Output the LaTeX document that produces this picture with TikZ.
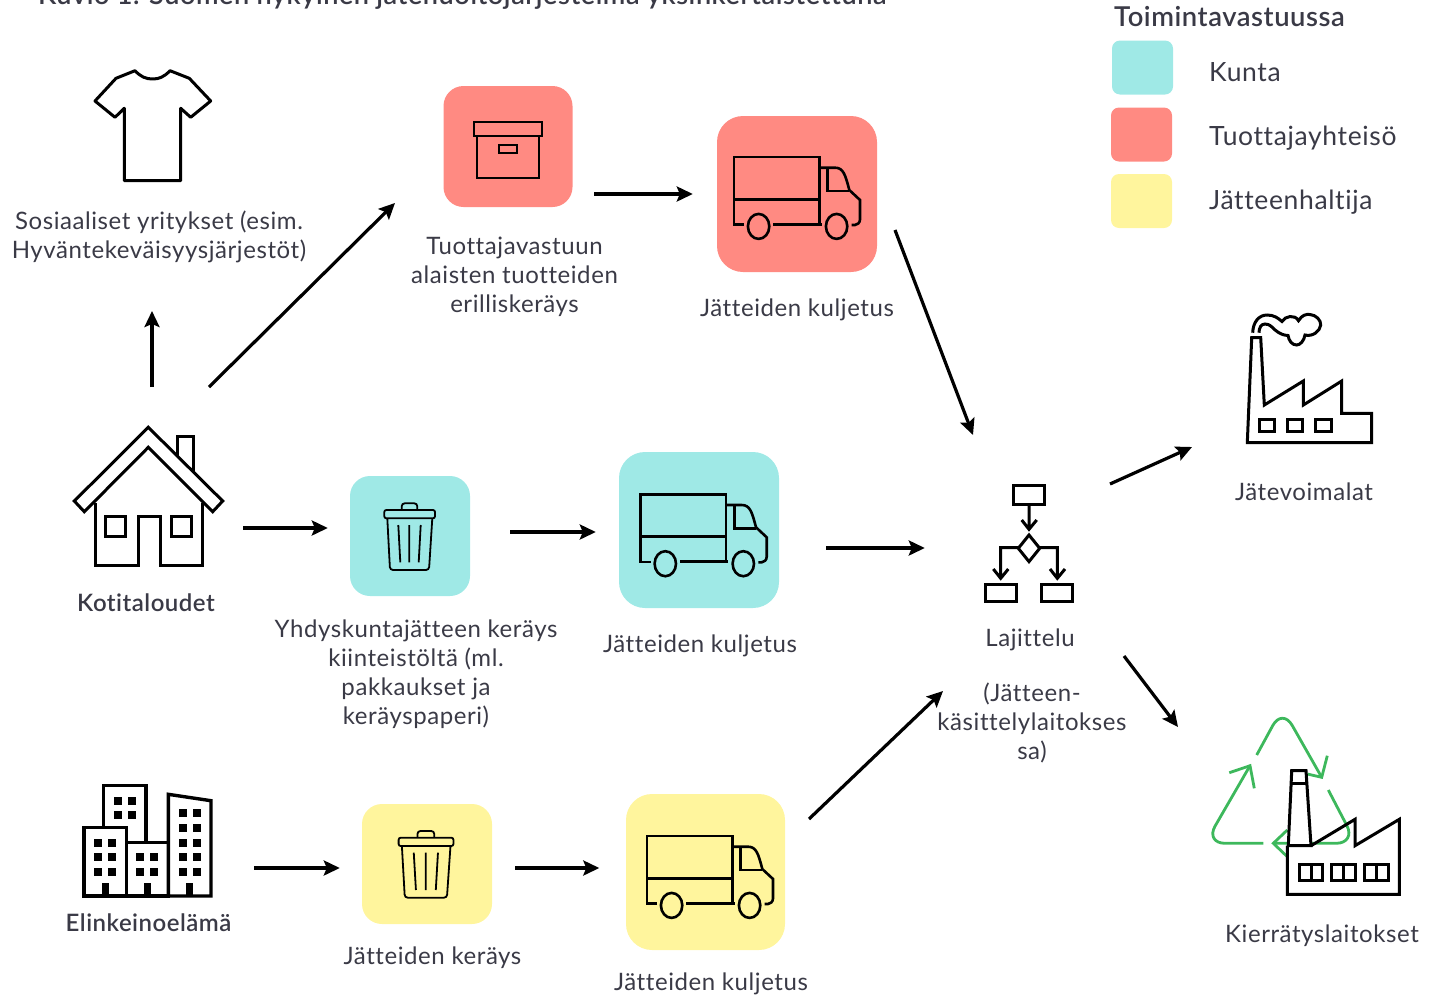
\documentclass[tikz,border=0pt]{standalone}
\usepackage{fontspec}
\setmainfont{Lato}[LetterSpace=2.4,Ligatures=NoCommon]
\newfontfamily\keski{Lato Semibold}[LetterSpace=2.0,Ligatures=NoCommon]
\usetikzlibrary{arrows.meta}
\definecolor{kunta}{HTML}{9FE9E6}
\definecolor{tuottaja}{HTML}{FF8A82}
\definecolor{haltija}{HTML}{FFF59D}
\definecolor{kierto}{HTML}{3DB85C}
\definecolor{teksti}{HTML}{3A3A46}
\tikzset{
  nuoli/.style={line width=3.2pt, -{Stealth[length=16pt,width=15pt,inset=3pt]}},
  ikoni/.style={line width=3pt, line join=miter},
  ohut/.style={line width=1.8pt},
  kuljetus/.style={minimum width=160pt, minimum height=156pt, rounded corners=26pt, inner sep=0pt},
  kerays/.style={minimum width=120pt, minimum height=120pt, rounded corners=20pt, inner sep=0pt},
  selite/.style={minimum width=61pt, minimum height=54pt, rounded corners=8pt, inner sep=0pt},
  paikka/.style={inner sep=0pt},
  txt/.style={text=teksti, font=\fontsize{24}{29}\selectfont, align=center, inner sep=0pt},
  seliteTxt/.style={text=teksti, font=\fontsize{26.5}{29}\selectfont, inner sep=0pt, anchor=west},
  vahva/.style={text=teksti, font=\fontsize{24}{29}\selectfont\keski, inner sep=0pt},
  truck/.pic={
    \draw[ohut,line width=2.6pt] (650.7,562)--(640.7,562)--(640.7,494.3)--(726,494.3)--(726,562);
    \draw[ohut,line width=2.6pt] (640.7,536.7)--(726,536.7) (680,561.7)--(728.3,561.7);
    \draw[ohut,line width=2.6pt] (665.3,563.7) ellipse (10.7 and 12.5) (743.3,563.7) ellipse (10.7 and 12.5);
    \draw[ohut,line width=2.6pt] (726,505)--(741.7,505) .. controls (750,505) and (752,512) .. (756,527.3)--(766.7,537.3)--(766.7,556.7) .. controls (766.7,560) and (764,562.3) .. (761.7,562.3)--(758.3,562.3);
    \draw[ohut,line width=2.6pt] (734.3,505)--(734.3,528.3)--(756,528.3);
  },
  bin/.pic={
    \draw[ohut,rounded corners=2pt] (384.3,510) rectangle (435,518.3);
    \draw[ohut,rounded corners=3pt] (401.7,510)--(401.7,503.3)--(417.3,503.3)--(417.3,510);
    \draw[ohut,rounded corners=3pt] (387.3,518.3)--(390,570)--(429,570)--(432.3,518.3);
    \draw[ohut] (398.3,525)--(400.3,562.3) (409.3,525)--(409.3,562.3) (420.7,525)--(418.7,562.3);
  }
}
\begin{document}
\begin{tikzpicture}[x=1pt,y=-1pt]
\useasboundingbox (0,0) rectangle (1440,994);

\node[vahva, anchor=base west, font=\fontsize{27.1}{29}\selectfont\keski] (otsikko) at (38,4) {Kuvio 1. Suomen nykyinen jätehuoltojärjestelmä yksinkertaistettuna};

% laatikot
\node[kerays, fill=tuottaja, minimum width=129pt, minimum height=121pt] (keraysP) at (508,146.5) {};
\node[kuljetus, fill=tuottaja] (autoP) at (797,194) {};
\node[kerays, fill=kunta] (keraysK) at (410,536) {};
\node[kuljetus, fill=kunta] (autoK) at (699,530) {};
\node[kerays, fill=haltija, minimum width=130pt] (keraysJ) at (427,864) {};
\node[kuljetus, fill=haltija, minimum width=159pt, minimum height=156pt] (autoJ) at (705.5,872) {};

% selite
\node[vahva, anchor=base west, font=\fontsize{27.4}{29}\selectfont\keski] (toiminta) at (1114,26) {Toimintavastuussa};
\node[selite, fill=kunta] (seliteK) at (1142.5,67.5) {};
\node[selite, fill=tuottaja] (seliteP) at (1141.5,134.5) {};
\node[selite, fill=haltija] (seliteJ) at (1141.5,201) {};
\node[seliteTxt] (kunta) at (1209,72) {Kunta};
\node[seliteTxt] (tuottajat) at (1209,138) {Tuottajayhteisö};
\node[seliteTxt] (haltijat) at (1209,202) {Jätteenhaltija};

% paita
\node[paikka, minimum width=116pt, minimum height=110pt] (paita) at (153,125.5) {};
\draw[ikoni, line join=round] (135,70.7) .. controls (141,77) and (146,79) .. (152.7,79) .. controls (159,79) and (164,77) .. (170,70.7)
  -- (189.3,78.3) -- (210.7,101) -- (190.7,117.3) -- (180.7,108.3) -- (180.7,180.7) -- (124.3,180.7) -- (124.3,108.3) -- (115,117.3) -- (95,101) -- (116,78.3) -- cycle;

% talo
\node[paikka, minimum width=150pt, minimum height=140pt] (koti) at (148.5,497) {};
\draw[ikoni] (148.3,427.3) -- (74.3,501) -- (84.3,511.7) -- (148.3,447.3) -- (212.7,511.7) -- (222.7,501) -- cycle;
\draw[ikoni] (177.3,456.7) -- (177.3,436.7) -- (193.3,436.7) -- (193.3,471.7);
\draw[ikoni] (95,503.3) -- (95,565) -- (138.3,565) -- (138.3,516.7) -- (160,516.7) -- (160,565) -- (202.7,565) -- (202.7,503.3);
\draw[ikoni] (105.7,516) rectangle (125.7,536.7) (171.7,516) rectangle (191.7,536.7);

% kaupunki
\node[paikka, minimum width=130pt, minimum height=112pt] (elinkeino) at (147.5,840) {};
\draw[ikoni, line width=3.4pt] (103.3,826.7) -- (103.3,785.7) -- (146,785.7) -- (146,841.7);
\draw[ikoni, line width=3.4pt] (84,827.3) rectangle (126.7,896) (126.7,842.7) rectangle (168.3,896);
\draw[ikoni, line width=3.4pt] (168.3,794.3) -- (211,800.7) -- (211,896) -- (168.3,896) -- cycle;
\foreach \ikk/\ikky in {118/800.7,132/800.7,118/814.7,132/814.7,98/842.7,112/842.7,98/856.7,112/856.7,98/871.7,112/871.7,140/856.7,154/856.7,140/871.7,154/871.7,183/813,197/813,183/827.7,197/827.7,183/842.7,197/842.7,183/856.7,197/856.7,183/871.7,197/871.7}
  \fill (\ikk-4,\ikky-4) rectangle +(8,8);
\foreach \ovi in {105.3,147.3,189.3}
  \fill (\ovi-3.5,883.3) rectangle (\ovi+3.5,896);

% arkisto
\draw[ohut] (474,122.3) rectangle (542.3,135.7) (476.7,135.7) rectangle (539.3,177.7) (499,145) rectangle (517.3,152.7);

% autot ja roskikset
\pic at (0,0) {truck};
\pic at (93.3,-337.3) {truck};
\pic at (6.3,341.7) {truck};
\pic at (0,0) {bin};
\pic[xscale=1.08] at (-16.4,327.7) {bin};

% lajittelu
\node[paikka, minimum width=90pt, minimum height=118pt] (lajittelu) at (1029,543.5) {};
\draw[ikoni] (1013.3,485.7) rectangle (1044.3,504);
\draw[ikoni] (1029,504) -- (1029,529.3) (1021.7,520) -- (1029,529.3) -- (1036.7,520);
\draw[ikoni] (1029,535) -- (1039.7,548.3) -- (1029,561.6) -- (1018.3,548.3) -- cycle;
\draw[ikoni] (1018.3,547.7) -- (1000.7,547.7) -- (1000.7,578.3) (993.3,569) -- (1000.7,578.3) -- (1008.3,569);
\draw[ikoni] (1039.7,547.7) -- (1057.3,547.7) -- (1057.3,578.3) (1050,569) -- (1057.3,578.3) -- (1065,569);
\draw[ikoni] (985.7,584) rectangle (1016,601.7) (1041.7,584) rectangle (1072.3,601.7);

% voimala
\node[paikka, minimum width=126pt, minimum height=130pt] (voimala) at (1310,378) {};
\draw[ikoni] (1251.7,337.7) -- (1247.3,442.7) -- (1371.7,442.7) -- (1371.7,413.3) -- (1341.7,413.3) -- (1341.7,381) -- (1303.3,405) -- (1303.3,381) -- (1264.3,405) -- (1260.7,337.7) -- cycle;
\draw[ikoni] (1259,419.3) rectangle (1274.3,431.7) (1287.3,419.3) rectangle (1302.7,431.7) (1315.7,419.3) rectangle (1331,431.7);
\draw[ikoni] (1252.7,332.7) .. controls (1253,322) and (1259,315) .. (1267,315)
  .. controls (1274,315) and (1278,318) .. (1282,321.5)
  .. controls (1285,316) and (1295,314) .. (1298.5,320.7)
  .. controls (1302,315) and (1306,314) .. (1310,314.5)
  .. controls (1316,315) and (1321,320) .. (1320.7,325)
  .. controls (1320,331) and (1313,337) .. (1305,335)
  .. controls (1304,341) and (1300,345) .. (1296.7,345)
  .. controls (1292,345) and (1289,341) .. (1288,335.5)
  .. controls (1280,335) and (1276,331) .. (1272,327)
  .. controls (1269,324.5) and (1267,324) .. (1265,324)
  .. controls (1261,324) and (1259,328) .. (1259,332.7);

% kierratys
\node[paikka, minimum width=196pt, minimum height=180pt] (kierratys) at (1303,805) {};
\draw[kierto, line width=2.8pt, rounded corners=20pt] (1256.7,755) -- (1282.3,708) -- (1321.7,777.3);
\draw[kierto, line width=2.8pt] (1327.3,755.7) -- (1321.7,777.3) -- (1307.3,774);
\draw[kierto, line width=2.8pt, rounded corners=20pt] (1328.3,790) -- (1356.1,843.3) -- (1273.3,843.3);
\draw[kierto, line width=2.8pt] (1287.3,830) -- (1273.3,843.3) -- (1287.3,856.7);
\draw[kierto, line width=2.8pt, rounded corners=20pt] (1263.3,843.3) -- (1205.1,843.3) -- (1250,765.7);
\draw[kierto, line width=2.8pt] (1229.3,772.7) -- (1250,765.7) -- (1254.3,788.3);
\fill[white] (1287.3,845.7) rectangle (1399.3,894.3);
\draw[ikoni, fill=white] (1291.7,770.7) -- (1306,770.7) -- (1311,845.7) -- (1288.3,845.7) -- cycle;
\draw[ikoni] (1290.7,783.3) -- (1307,783.3);
\draw[ikoni] (1311,845.7) -- (1355,819.3) -- (1355,845.7) -- (1399.3,819.3) -- (1399.3,894.3) -- (1287.3,894.3) -- (1287.3,845.7);
\draw[ikoni] (1299,864.3) rectangle (1322.7,880) (1311,864.3) -- (1311,880);
\draw[ikoni] (1331.7,864.3) rectangle (1355,880) (1343.3,864.3) -- (1343.3,880);
\draw[ikoni] (1364.3,864.3) rectangle (1388.3,880) (1376.7,864.3) -- (1376.7,880);

% tekstit
\node[txt] (sosiaaliset) at (159,236.5) {Sosiaaliset yritykset (esim.\\Hyväntekeväisyysjärjestöt)};
\node[txt] (tuottajavastuu) at (514.5,277) {Tuottajavastuun\\alaisten tuotteiden\\erilliskeräys};
\node[txt] (kuljetusP) at (797,310) {Jätteiden kuljetus};
\node[vahva] (kotitaloudet) at (146,603) {Kotitaloudet};
\node[txt] (yhdyskunta) at (416,674.5) {Yhdyskuntajätteen keräys\\kiinteistöltä (ml.\\pakkaukset ja\\keräyspaperi)};
\node[txt] (kuljetusK) at (700,646) {Jätteiden kuljetus};
\node[vahva] (elinkeinoelama) at (148.5,923) {Elinkeinoelämä};
\node[txt] (keraysText) at (432.5,958) {Jätteiden keräys};
\node[txt] (kuljetusJ) at (711,984) {Jätteiden kuljetus};
\node[txt] (lajitteluText) at (1030,640) {Lajittelu};
\node[txt] (laitos) at (1032,722.5) {(Jätteen-\\käsittelylaitokses\\sa)};
\node[txt] (voimalat) at (1304,492) {Jätevoimalat};
\node[txt] (kierratysText) at (1322,936) {Kierrätyslaitokset};

% nuolet
\coordinate (kotiYlos) at (152,387);
\coordinate (sosAla) at (152,311);
\coordinate (kotiVino) at (209,387);
\coordinate (keraysTulo) at (395,203);
\coordinate (autoPLahto) at (895,230);
\coordinate (lajitteluYla) at (973,435);
\coordinate (autoJLahto) at (809,819);
\coordinate (lajitteluAla) at (943,691);
\coordinate (lajitteluVoima) at (1110,484);
\coordinate (voimalaTulo) at (1192,447);
\coordinate (lajitteluKierto) at (1124,656);
\coordinate (kierratysTulo) at (1178,727);
\draw[nuoli] (kotiYlos) -- (sosAla);
\draw[nuoli] (kotiVino) -- (keraysTulo);
\draw[nuoli, shorten <=21.5pt, shorten >=24pt] (keraysP.east |- autoP.west) -- (autoP.west);
\draw[nuoli] (autoPLahto) -- (lajitteluYla);
\draw[nuoli, shorten <=19.5pt, shorten >=22pt] ([yshift=-31pt]koti.east) -- ([yshift=8pt]keraysK.west);
\draw[nuoli, shorten <=40pt, shorten >=23pt] ([yshift=4pt]keraysK.east) -- ([yshift=-2pt]autoK.west);
\draw[nuoli, shorten <=47pt, shorten >=59pt] ([yshift=-18pt]autoK.east) -- ([yshift=-4.5pt]lajittelu.west);
\draw[nuoli, shorten <=41.5pt, shorten >=22pt] ([yshift=-28pt]elinkeino.east) -- ([yshift=-4pt]keraysJ.west);
\draw[nuoli, shorten <=23pt, shorten >=26.5pt] ([yshift=-4pt]keraysJ.east) -- ([yshift=4pt]autoJ.west);
\draw[nuoli] (autoJLahto) -- (lajitteluAla);
\draw[nuoli] (lajitteluVoima) -- (voimalaTulo);
\draw[nuoli] (lajitteluKierto) -- (kierratysTulo);
\end{tikzpicture}
\end{document}
